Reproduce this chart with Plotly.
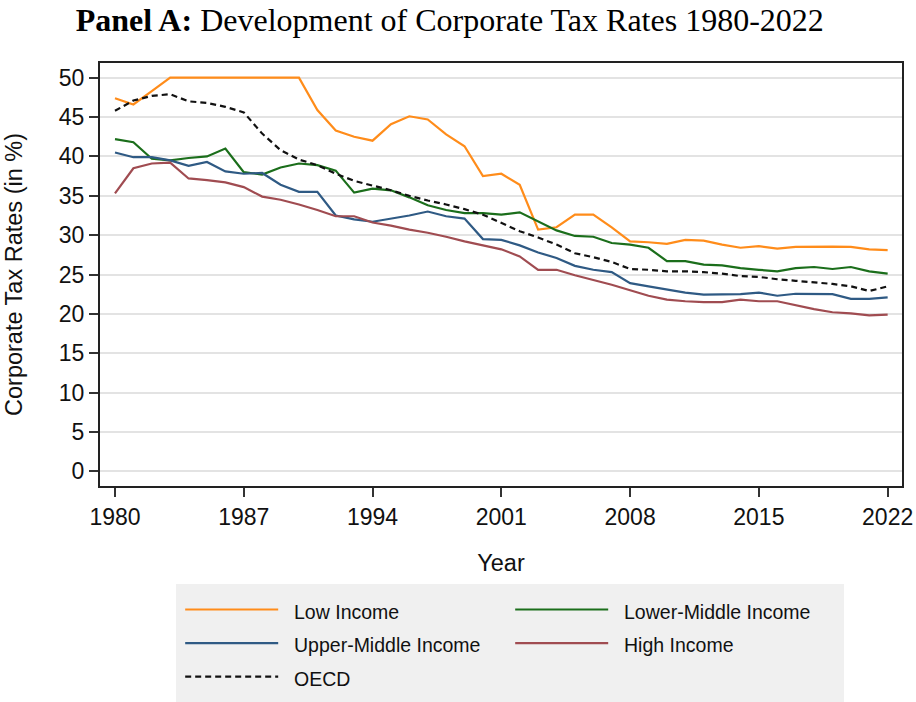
import plotly.graph_objects as go

# Average statutory corporate tax rates (in %) by income group, 1980-2022
years = list(range(1980, 2023))

low_income = [
    47.4, 46.6, 48.3, 50.0, 50.0, 50.0, 50.0, 50.0, 50.0, 50.0,
    50.0, 45.9, 43.3, 42.5, 42.0, 44.1, 45.1, 44.7, 42.8, 41.3,
    37.5, 37.8, 36.4, 30.7, 31.0, 32.6, 32.6, 31.0, 29.2, 29.1,
    28.9, 29.4, 29.3, 28.8, 28.4, 28.6, 28.3, 28.5, 28.55, 28.55,
    28.5, 28.2, 28.1,
]
lower_middle_income = [
    42.2, 41.8, 39.7, 39.5, 39.8, 40.0, 41.0, 38.0, 37.7, 38.6,
    39.1, 38.9, 38.2, 35.4, 35.9, 35.7, 34.8, 33.8, 33.2, 32.8,
    32.8, 32.6, 32.9, 31.8, 30.6, 29.9, 29.8, 29.0, 28.8, 28.4,
    26.7, 26.7, 26.25, 26.15, 25.8, 25.6, 25.4, 25.8, 25.95, 25.7,
    25.95, 25.4, 25.1,
]
upper_middle_income = [
    40.5, 39.9, 39.9, 39.5, 38.8, 39.3, 38.1, 37.8, 37.9, 36.4,
    35.5, 35.5, 32.5, 32.0, 31.7, 32.1, 32.5, 33.0, 32.4, 32.1,
    29.5, 29.4, 28.7, 27.8, 27.1, 26.1, 25.6, 25.3, 23.9, 23.5,
    23.1, 22.7, 22.45, 22.45, 22.5, 22.7, 22.3, 22.55, 22.55, 22.5,
    21.9, 21.9, 22.1,
]
high_income = [
    35.3, 38.5, 39.1, 39.2, 37.2, 37.0, 36.7, 36.1, 34.9, 34.5,
    33.9, 33.2, 32.4, 32.4, 31.6, 31.2, 30.7, 30.3, 29.8, 29.2,
    28.7, 28.2, 27.3, 25.6, 25.6, 24.9, 24.3, 23.7, 23.0, 22.3,
    21.8, 21.6, 21.5, 21.5, 21.8, 21.6, 21.6, 21.1, 20.6, 20.2,
    20.05, 19.8, 19.9,
]
oecd = [
    45.8, 47.1, 47.7, 47.9, 47.0, 46.8, 46.3, 45.6, 42.9, 40.8,
    39.6, 38.9, 37.8, 36.9, 36.3, 35.7, 35.0, 34.4, 33.9, 33.3,
    32.6, 31.5, 30.5, 29.7, 28.8, 27.7, 27.2, 26.6, 25.7, 25.6,
    25.4, 25.4, 25.3, 25.1, 24.8, 24.7, 24.4, 24.2, 24.0, 23.8,
    23.5, 22.9, 23.5,
]

x_ticks = [1980, 1987, 1994, 2001, 2008, 2015, 2022]
y_ticks = [0, 5, 10, 15, 20, 25, 30, 35, 40, 45, 50]

SANS = "Arial, Liberation Sans, sans-serif"
SERIF = "Times New Roman, Liberation Serif, serif"
LEGEND_BG = "#f0f0f0"

series = [
    ("Low Income", low_income, "#ff8c1a", "solid"),
    ("Lower-Middle Income", lower_middle_income, "#1b6e1b", "solid"),
    ("Upper-Middle Income", upper_middle_income, "#2f5a84", "solid"),
    ("High Income", high_income, "#a04c51", "solid"),
    ("OECD", oecd, "#111111", "6px,4px"),
]

fig = go.Figure()
for name, values, color, dash in series:
    fig.add_trace(go.Scatter(
        x=years, y=values, mode="lines",
        name=f"<span style='font-size:19.5px'>&nbsp;&nbsp;{name}</span>",
        line=dict(color=color, width=2.2, dash=dash),
    ))

fig.update_layout(
    width=916, height=702,
    margin=dict(l=100, r=14, t=63, b=216, autoexpand=False),
    paper_bgcolor="white", plot_bgcolor="white",
    font=dict(family=SANS, color="#111111"),
    title=dict(
        text="<b>Panel A:</b> Development of Corporate Tax Rates 1980-2022",
        font=dict(family=SERIF, size=32, color="black"),
        x=0.491, xanchor="center", xref="container",
        y=0.972, yanchor="middle", yref="container",
    ),
    showlegend=True,
    legend=dict(
        orientation="h",
        x=0.095, xanchor="left", y=-0.231, yanchor="top",
        bgcolor=LEGEND_BG, bordercolor=LEGEND_BG, borderwidth=4,
        font=dict(family=SANS, size=23.5, color="#111111"),
        itemwidth=93, entrywidth=222, entrywidthmode="pixels",
        traceorder="normal",
    ),
)

fig.update_xaxes(
    range=[1979.185, 2022.78],
    tickmode="array", tickvals=x_ticks,
    ticks="outside", ticklen=9, tickwidth=1.5, tickcolor="#333333",
    tickfont=dict(family=SANS, size=23, color="#111111"),
    ticklabelstandoff=0,
    showgrid=False, zeroline=False,
    showline=True, mirror=True, linecolor="#222222", linewidth=2,
    title=dict(text="Year", font=dict(family=SANS, size=23.5, color="#111111"), standoff=26),
)
fig.update_yaxes(
    range=[-1.87, 51.87],
    tickmode="array", tickvals=y_ticks,
    ticks="outside", ticklen=9, tickwidth=1.5, tickcolor="#333333",
    tickfont=dict(family=SANS, size=23, color="#111111"),
    showgrid=True, gridcolor="#e3e3e3", gridwidth=1.5, zeroline=False,
    showline=True, mirror=True, linecolor="#222222", linewidth=2,
    title=dict(text="Corporate Tax Rates (in %)", font=dict(family=SANS, size=23.5, color="#111111"), standoff=30),
)

fig.write_html("out.html")
